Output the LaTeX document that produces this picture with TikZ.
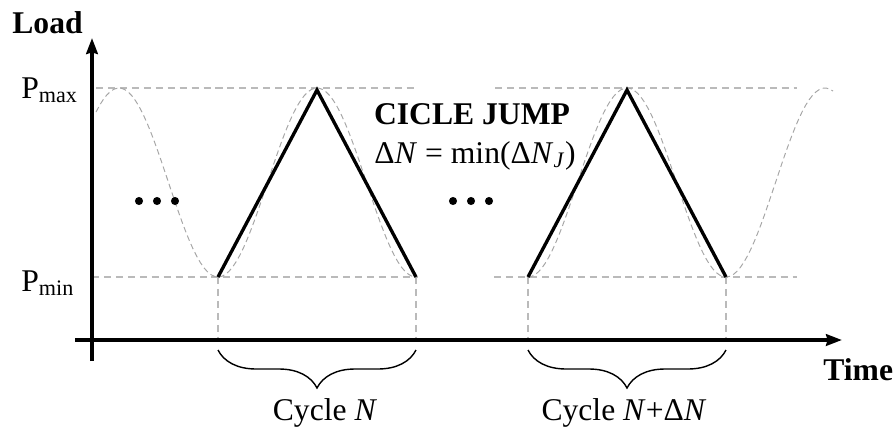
\documentclass[tikz,border=0pt]{standalone}
\usepackage{fontspec}
\setmainfont{Liberation Serif}
\usepackage{tikz}
\usetikzlibrary{arrows.meta, decorations.pathreplacing}

\begin{document}
\begin{tikzpicture}[x=0.02cm, y=-0.02cm, font=\fontsize{18}{20}\selectfont,
    guide/.style={draw=black!27, line width=0.85pt, dash pattern=on 4pt off 2.8pt},
    wave/.style={draw=black!35, line width=0.55pt, dash pattern=on 3.2pt off 2pt},
    axis/.style={line width=2.5pt, -{Stealth[length=9pt, width=6.5pt, inset=0.8pt]}},
    ramp/.style={line width=1.9pt, line join=miter},
    cbrace/.style={line width=0.8pt, decorate, decoration={brace, mirror, amplitude=0.76cm}}]
\useasboundingbox (0,0) rectangle (896,430);

\begin{scope}[every node/.style={inner sep=0pt}]
    \node[anchor=base west] (load) at (12,33) {\textbf{Load}};
    \node[anchor=base west] (time) at (823,380) {\textbf{Time}};
    \node[anchor=base west] (pmax) at (21,98) {P\textsubscript{max}};
    \node[anchor=base west] (pmin) at (21,291) {P\textsubscript{min}};
    \node[anchor=base] (jump) at (472,124) {\textbf{CICLE JUMP}};
    \node[anchor=base] (dn) at (475,163) {Δ\textit{N} = min(Δ\textit{N}\textsubscript{\textit{J}})};
    \node[anchor=base] (cyc1) at (325,420) {Cycle \textit{N}};
    \node[anchor=base] (cyc2) at (624,420) {Cycle \textit{N}+Δ\textit{N}};
\end{scope}

\begin{scope}
    \coordinate (yb) at (92,361);
    \coordinate (yt) at (92,38);
    \coordinate (xl) at (75,340);
    \coordinate (xr) at (842,340);
    % two cycles
    \coordinate (a1) at (218,277);
    \coordinate (b1) at (317,90);
    \coordinate (c1) at (416,277);
    \coordinate (a2) at (528,277);
    \coordinate (b2) at (627,90);
    \coordinate (c2) at (726,277);
    % guide line ends
    \coordinate (hx1) at (96,88);
    \coordinate (hx2) at (418,88);
    \coordinate (hx3) at (495,88);
    \coordinate (hx4) at (797,88);
    \coordinate (hn1) at (92,277);
    \coordinate (hn2) at (418,277);
    \coordinate (hn3) at (494,277);
    \coordinate (hn4) at (797,277);
    \coordinate (br) at (0,350);
\end{scope}

% guides
\path [guide] (hx1) edge (hx2) (hx3) edge (hx4);
\path [guide] (hn1) edge (hn2) (hn3) edge (hn4);
\foreach \p in {a1,c1,a2,c2}
    \draw [guide] (\p) -- (\p |- xl);

% sine load
\draw [wave] plot[domain=96:416, samples=90] (\x, {182.5-94.5*cos(1.81818*(\x-317))});
\draw [wave] plot[domain=528:833, samples=90] (\x, {182.5-94.5*cos(1.81818*(\x-627))});

% axes
\draw [axis] (yb) -- (yt);
\draw [axis] (xl) -- (xr);

% ramps
\draw [ramp] (a1) -- (b1) -- (c1);
\draw [ramp] (a2) -- (b2) -- (c2);

% dots
\foreach \x in {139,157,175,453,471,489}
    \fill (\x,201) circle (2.3pt);

% braces
\draw [cbrace] (a1 |- br) -- (c1 |- br);
\draw [cbrace] (a2 |- br) -- (c2 |- br);
\end{tikzpicture}
\end{document}
